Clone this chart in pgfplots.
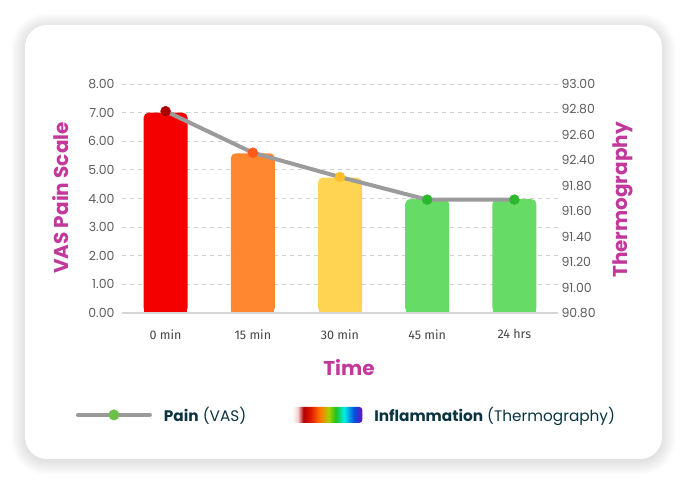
\documentclass[border=0pt]{standalone}
\usepackage{fontspec}
\setmainfont{Poppins}
\newfontfamily\ticksfont{Fira Sans}
\usepackage{pgfplots}
\pgfplotsset{compat=1.18}

\definecolor{titlemag}{HTML}{C2389B}
\definecolor{tickgray}{HTML}{5E5E5E}
\definecolor{xtickgray}{HTML}{444444}
\definecolor{gridgray}{HTML}{CFCFCF}
\definecolor{axisgray}{HTML}{D6D6D6}
\definecolor{linegray}{HTML}{9B9B9B}
\definecolor{legtext}{HTML}{0B3441}
\definecolor{leggreen}{HTML}{6CC04A}
\definecolor{barA}{HTML}{F50000}
\definecolor{barB}{HTML}{FF8730}
\definecolor{barC}{HTML}{FFD452}
\definecolor{barD}{HTML}{66DB66}
\definecolor{mkA}{HTML}{A80000}
\definecolor{mkB}{HTML}{FF5A1A}
\definecolor{mkC}{HTML}{FFBE2A}
\definecolor{mkD}{HTML}{2CB82C}
\definecolor{thA}{HTML}{F6D0D0}
\definecolor{thB}{HTML}{B00000}
\definecolor{thC}{HTML}{E01800}
\definecolor{thD}{HTML}{FF7A00}
\definecolor{thE}{HTML}{A8D000}
\definecolor{thF}{HTML}{20C020}
\definecolor{thG}{HTML}{00F0E8}
\definecolor{thH}{HTML}{0050E0}
\definecolor{thI}{HTML}{6A10C0}

% path edges map to 25bp and 75bp
\pgfdeclarehorizontalshading{thermo}{100bp}{%
  color(0bp)=(white);
  color(25bp)=(white);
  color(29bp)=(thA);
  color(33bp)=(thB);
  color(38bp)=(thC);
  color(45bp)=(thD);
  color(51bp)=(thE);
  color(56bp)=(thF);
  color(62bp)=(thG);
  color(69bp)=(thH);
  color(75bp)=(thI);
  color(100bp)=(thI)}

\begin{document}
\begin{tikzpicture}[x=1pt,y=1pt]
\useasboundingbox (0,0) rectangle (698,496);
\fill[white] (0,0) rectangle (698,496);
% soft shadow of card
\foreach \i in {1,...,14} {
  \pgfmathsetmacro{\r}{22+\i}
  \fill[black, opacity=0.006, rounded corners=\r pt] (25-\i,37-\i-2) rectangle (662+\i,471+\i-2);
}
\fill[white, rounded corners=22pt] (25,37) rectangle (662,471);

% titles
\node[rotate=90, font=\bfseries\fontsize{20}{24}\selectfont, text=titlemag] at (61,298) {VAS Pain Scale};
\node[rotate=90, font=\bfseries\fontsize{20}{24}\selectfont, text=titlemag] at (623,296) {Thermography};
\node[font=\bfseries\fontsize{20}{24}\selectfont, text=titlemag] at (349,128) {Time};

\begin{axis}[
  at={(122pt,183pt)}, anchor=south west,
  scale only axis, width=436pt, height=229pt,
  xmin=-0.5, xmax=4.5, ymin=0, ymax=8,
  axis lines*=left,
  axis line style={draw=none},
  major tick length=0pt,
  xtick={0,1,2,3,4},
  xticklabels={0 min,15 min,30 min,45 min,24 hrs},
  xticklabel style={font=\ticksfont\fontsize{12.5}{14}\selectfont, text=xtickgray, yshift=-13pt},
  ytick={0,1,...,8},
  yticklabel style={font=\fontsize{12.5}{15}\selectfont, text=tickgray, xshift=-4pt,
    /pgf/number format/.cd, fixed, fixed zerofill, precision=2, assume math mode=true},
  ymajorgrids,
  major grid style={gridgray, dash pattern=on 4pt off 4pt, line width=1pt},
  clip=false,
  legend style={at={(axis description cs:-0.113,-0.445)}, anchor=west, draw=none, fill=none,
    font=\fontsize{15.3}{19}\selectfont, text=legtext, legend columns=2,
    /tikz/every odd column/.append style={column sep=10pt},
    /tikz/every even column/.append style={column sep=44pt}},
  legend cell align=left,
]
% bars (rounded top, square base)
\addplot[ybar, bar width=44pt, bar shift=0pt, fill=barA, draw=none, rounded corners=5pt, forget plot] coordinates {(0,7.00)};
\addplot[ybar, bar width=43pt, bar shift=0pt, fill=barA, draw=none, forget plot] coordinates {(0,3.50)};
\addplot[ybar, bar width=44pt, bar shift=0pt, fill=barB, draw=none, rounded corners=5pt, forget plot] coordinates {(1,5.58)};
\addplot[ybar, bar width=43pt, bar shift=0pt, fill=barB, draw=none, forget plot] coordinates {(1,2.79)};
\addplot[ybar, bar width=44pt, bar shift=0pt, fill=barC, draw=none, rounded corners=5pt, forget plot] coordinates {(2,4.73)};
\addplot[ybar, bar width=43pt, bar shift=0pt, fill=barC, draw=none, forget plot] coordinates {(2,2.36)};
\addplot[ybar, bar width=44pt, bar shift=0pt, fill=barD, draw=none, rounded corners=5pt, forget plot] coordinates {(3,3.98)};
\addplot[ybar, bar width=43pt, bar shift=0pt, fill=barD, draw=none, forget plot] coordinates {(3,1.99)};
\addplot[ybar, bar width=44pt, bar shift=0pt, fill=barD, draw=none, rounded corners=5pt, forget plot] coordinates {(4,3.98)};
\addplot[ybar, bar width=43pt, bar shift=0pt, fill=barD, draw=none, forget plot] coordinates {(4,1.99)};
% baseline drawn over bars
\addplot[axisgray, line width=2pt, forget plot] coordinates {(-0.5,0) (4.5,0)};
% pain line
\addplot[linegray, line width=4pt, line join=round, mark=none, forget plot] coordinates {(0,7.05) (1,5.60) (2,4.75) (3,3.96) (4,3.96)};
\addplot[only marks, mark=*, mark size=5pt, mkA, forget plot] coordinates {(0,7.05)};
\addplot[only marks, mark=*, mark size=5pt, mkB, forget plot] coordinates {(1,5.60)};
\addplot[only marks, mark=*, mark size=5pt, mkC, forget plot] coordinates {(2,4.75)};
\addplot[only marks, mark=*, mark size=5pt, mkD, forget plot] coordinates {(3,3.96) (4,3.96)};
% legend
\addlegendimage{legend image code/.code={
  \draw[linegray, line width=4pt, line cap=round] (0pt,0pt) -- (72pt,0pt);
  \fill[leggreen, draw=none] (36pt,0pt) circle (5.5pt);}}
\addlegendentry{\textbf{Pain} (VAS)}
\addlegendimage{legend image code/.code={
  \path[draw=none, shading=thermo, rounded corners=3pt] (0pt,-8pt) rectangle (70pt,8pt);}}
\addlegendentry{\textbf{Inflammation} (Thermography)}
\end{axis}

\begin{axis}[
  at={(122pt,183pt)}, anchor=south west,
  scale only axis, width=436pt, height=229pt,
  xmin=-0.5, xmax=4.5, ymin=0, ymax=9,
  axis x line=none,
  axis y line*=right,
  y axis line style={draw=none},
  major tick length=0pt,
  ytick={0,1,...,9},
  yticklabels={90.80,91.00,91.20,91.40,91.60,91.80,92.40,92.60,92.80,93.00},
  yticklabel style={font=\fontsize{12.5}{15}\selectfont, text=tickgray},
]
\addplot[draw=none, forget plot] coordinates {(0,0)};
\end{axis}
\end{tikzpicture}
\end{document}
